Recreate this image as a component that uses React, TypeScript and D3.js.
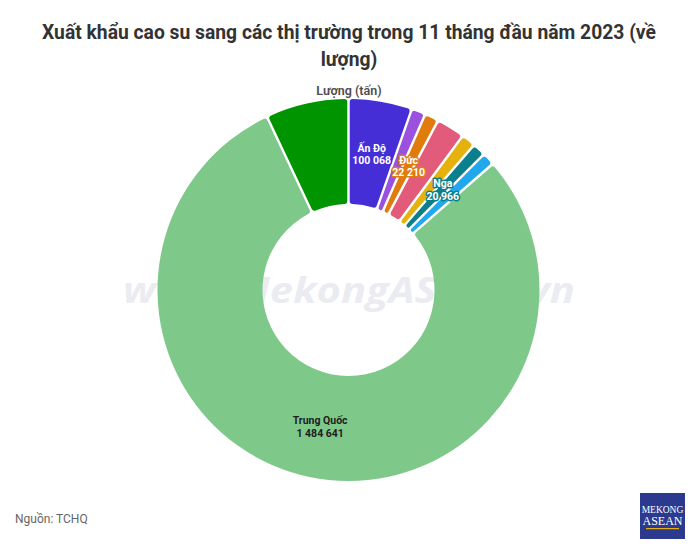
import React from 'react';
import * as d3 from 'd3';

const W = 699;
const H = 546;

const titleLines = ['Xuất khẩu cao su sang các thị trường trong 11 tháng đầu năm 2023 (về', 'lượng)'];
const seriesName = 'Lượng (tấn)';
const sourceText = 'Nguồn: TCHQ';
const watermark = 'www.MekongASEAN.vn';

const categories = ['Ấn Độ', 'Thị trường B', 'Đức', 'Thị trường D', 'Thị trường E', 'Nga', 'Thị trường G', 'Trung Quốc', 'Khác'];
const values = [100068, 22300, 22210, 45100, 22550, 20966, 20200, 1484641, 130700];
const colors = ['#452ed6', '#9b51e0', '#e07c0e', '#e35b7b', '#e5b10c', '#0b7f8c', '#21a8ec', '#7ec98a', '#009400'];
const showLabel = [true, false, true, false, false, true, false, true, false];
const labelColors = ['#ffffff', '#ffffff', '#ffffff', '#ffffff', '#ffffff', '#ffffff', '#ffffff', '#1d1d1d', '#ffffff'];

const fmt = d3.formatLocale({ decimal: ',', thousands: ' ', grouping: [3], currency: ['', ''] }).format(',d');

export default function App() {
  const cx = 348.5;
  const cy = 290;
  const outerR = 191;
  const innerR = 86;

  const pie = d3
    .pie<number>()
    .sort(null)
    .value((d) => d)
    .startAngle(0)
    .endAngle(2 * Math.PI);
  const arcs = pie(values);
  const arc = d3
    .arc<d3.PieArcDatum<number>>()
    .innerRadius(innerR)
    .outerRadius(outerR)
    .cornerRadius(3)
    .padAngle(2.4 / outerR)
    .padRadius(outerR);
  const labelArc = d3
    .arc<d3.PieArcDatum<number>>()
    .innerRadius(innerR + 2)
    .outerRadius(outerR - 2);

  const font = 'Roboto, "Noto Sans", sans-serif';

  return (
    <svg
      width={W}
      height={H}
      viewBox={`0 0 ${W} ${H}`}
      style={{ position: 'absolute', left: 0, top: 0, background: '#ffffff' }}
    >
      <rect x={0} y={0} width={W} height={H} fill="#ffffff" />
      <g fontFamily={font} textAnchor="middle" fill="#333333" fontWeight={700} fontSize={19.3}>
        {titleLines.map((t, i) => (
          <text key={i} x={349} y={39 + i * 27}>
            {t}
          </text>
        ))}
      </g>
      <text
        x={349}
        y={303}
        textAnchor="middle"
        fontFamily='"Open Sans", sans-serif'
        fontStyle="italic"
        fontWeight={700}
        fontSize={36}
        fill="#ebebf2"
        textLength={452}
        lengthAdjust="spacingAndGlyphs"
      >
        {watermark}
      </text>
      <text x={349} y={95} textAnchor="middle" fontFamily={font} fontWeight={600} fontSize={12.5} fill="#4d4d4d">
        {seriesName}
      </text>
      <g transform={`translate(${cx},${cy})`}>
        {arcs.map((a, i) => (
          <path key={categories[i]} d={arc(a) || ''} fill={colors[i]} />
        ))}
        {arcs.map((a, i) => {
          if (!showLabel[i]) return null;
          const [lx, ly] = labelArc.centroid(a);
          const halo = i === 7 ? 'none' : colors[i];
          return (
            <text
              key={'l' + i}
              x={lx}
              y={ly - 1.5}
              fontFamily={font}
              fontWeight={700}
              fontSize={10.5}
              textAnchor="middle"
              fill={labelColors[i]}
              stroke={halo}
              strokeWidth={3}
              strokeLinejoin="round"
              paintOrder="stroke"
            >
              <tspan x={lx} dy={0}>
                {categories[i]}
              </tspan>
              <tspan x={lx} dy={12.5}>
                {fmt(values[i])}
              </tspan>
            </text>
          );
        })}
      </g>
      <text x={15} y={523} fontFamily={font} fontSize={12} fill="#666666">
        {sourceText}
      </text>
      <g transform="translate(640,493)">
        <rect width={45} height={46} fill="#2b3a8e" />
        <text x={22.5} y={20} textAnchor="middle" fontFamily='"Liberation Serif", serif' fontSize={9.5} fill="#ffffff">
          MEKONG
        </text>
        <text x={22.5} y={32} textAnchor="middle" fontFamily='"Liberation Serif", serif' fontSize={12} fill="#ffffff">
          ASEAN
        </text>
        <rect x={6} y={35} width={33} height={1.2} fill="#e5b10c" />
      </g>
    </svg>
  );
}
